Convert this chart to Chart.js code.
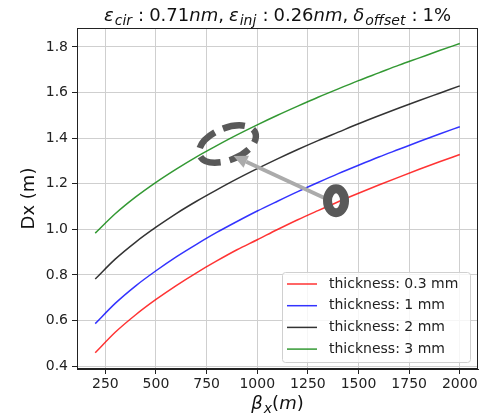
<!DOCTYPE html>
<html>
<head>
<meta charset="utf-8">
<script src="https://cdn.jsdelivr.net/npm/chart.js@4/dist/chart.umd.min.js"></script>
<style>
  html, body { margin:0; padding:0; background:#fff; }
  #wrap { position:relative; width:481px; height:415px; overflow:hidden; }
  #c { position:absolute; left:0; top:0; }
  .math { position:absolute; font-family:"DejaVu Sans", sans-serif; color:#111; white-space:nowrap; text-align:center; line-height:24px; }
  .math i { font-style:oblique; }
  .math sub { font-size:0.78em; line-height:0; vertical-align:-0.3em; margin-left:1px; }
  .math .bc { margin-left:6px; }
  .math .ac { margin-left:5px; }
  .math .cm { margin-left:5px; }
  #title { left:77px; width:401px; top:3px; font-size:18px; }
  #xlabel { left:77px; width:401px; top:391px; font-size:18px; }
</style>
</head>
<body>
<div id="wrap">
  <canvas id="c" width="481" height="415"></canvas>
  <div id="title" class="math"><i>ε</i><sub><i>cir</i></sub><span class="bc">:</span><span class="ac">0.71<i>nm</i>,</span><span class="cm"><i>ε</i></span><sub><i>inj</i></sub><span class="bc">:</span><span class="ac">0.26<i>nm</i>,</span><span class="cm"><i>δ</i></span><sub><i>offset</i></sub><span class="bc">:</span><span class="ac">1%</span></div>
  <div id="xlabel" class="math"><i>β</i><sub><i>x</i></sub>(<i>m</i>)</div>
</div>
<script>
// ---- data ----
const betaX = [200, 300, 400, 500, 600, 700, 800, 900, 1000, 1100, 1200, 1300, 1400, 1500, 1600, 1700, 1800, 1900, 2000];
const dx03mm = [0.458, 0.549, 0.625, 0.692, 0.753, 0.809, 0.861, 0.910, 0.954, 0.999, 1.042, 1.082, 1.121, 1.158, 1.194, 1.229, 1.263, 1.296, 1.328];
const dx1mm  = [0.586, 0.676, 0.752, 0.818, 0.879, 0.934, 0.986, 1.034, 1.080, 1.123, 1.165, 1.205, 1.244, 1.281, 1.317, 1.351, 1.385, 1.418, 1.450];
const dx2mm  = [0.782, 0.870, 0.944, 1.009, 1.069, 1.123, 1.173, 1.221, 1.266, 1.309, 1.350, 1.389, 1.426, 1.463, 1.498, 1.532, 1.565, 1.597, 1.629];
const dx3mm  = [0.983, 1.069, 1.142, 1.206, 1.264, 1.318, 1.367, 1.414, 1.458, 1.500, 1.540, 1.579, 1.616, 1.652, 1.686, 1.720, 1.752, 1.784, 1.815];
const seriesLabels = ["thickness: 0.3 mm", "thickness: 1 mm", "thickness: 2 mm", "thickness: 3 mm"];
const xTicks = [250, 500, 750, 1000, 1250, 1500, 1750, 2000];
const yTicks = [0.4, 0.6, 0.8, 1.0, 1.2, 1.4, 1.6, 1.8];

// annotation anchors in data units
const markEllipse = { x: 853, y: 1.374 };
const markRing = { x: 1389, y: 1.125 };
const arrowFrom = { x: 1340, y: 1.134 };
const arrowTo = { x: 883, y: 1.322 };

const FONT = "DejaVu Sans";
const colors = ["rgba(255,0,0,0.8)", "rgba(0,0,255,0.8)", "rgba(0,0,0,0.8)", "rgba(0,128,0,0.8)"];
const allSeries = [dx03mm, dx1mm, dx2mm, dx3mm];

const datasets = allSeries.map((vals, k) => ({
  label: seriesLabels[k],
  data: betaX.map((x, i) => ({ x: x, y: vals[i] })),
  borderColor: colors[k],
  backgroundColor: colors[k],
  borderWidth: 1.5,
  pointRadius: 0,
  fill: false,
  cubicInterpolationMode: 'monotone'
}));

const framePlugin = {
  id: 'frame',
  afterDraw(chart) {
    const { ctx, chartArea: a } = chart;
    ctx.save();
    ctx.strokeStyle = '#222';
    ctx.lineWidth = 1;
    ctx.strokeRect(Math.round(a.left) + 0.5, Math.round(a.top) + 0.5, Math.round(a.right - a.left) - 1, Math.round(a.bottom - a.top) - 1);
    ctx.restore();
  }
};

const annotPlugin = {
  id: 'annot',
  afterDatasetsDraw(chart) {
    const { ctx } = chart;
    const xs = chart.scales.x, ys = chart.scales.y;
    const P = p => ({ x: xs.getPixelForValue(p.x), y: ys.getPixelForValue(p.y) });
    ctx.save();
    // dashed ellipse
    const e = P(markEllipse);
    ctx.strokeStyle = '#595959';
    ctx.lineWidth = 6.5;
    ctx.setLineDash([22, 9]);
    ctx.lineDashOffset = 12;
    ctx.beginPath();
    ctx.ellipse(e.x, e.y, 30, 16, -22 * Math.PI / 180, 0, Math.PI * 2);
    ctx.stroke();
    ctx.setLineDash([]);
    // arrow
    const a0 = P(arrowFrom), a1 = P(arrowTo);
    const ang = Math.atan2(a1.y - a0.y, a1.x - a0.x);
    const headL = 14, headW = 6.5;
    const bx = a1.x - headL * Math.cos(ang), by = a1.y - headL * Math.sin(ang);
    ctx.strokeStyle = '#ababab';
    ctx.fillStyle = '#ababab';
    ctx.lineWidth = 4;
    ctx.beginPath();
    ctx.moveTo(a0.x, a0.y);
    ctx.lineTo(bx, by);
    ctx.stroke();
    ctx.beginPath();
    ctx.moveTo(a1.x, a1.y);
    ctx.lineTo(bx + headW * Math.sin(ang), by - headW * Math.cos(ang));
    ctx.lineTo(bx - headW * Math.sin(ang), by + headW * Math.cos(ang));
    ctx.closePath();
    ctx.fill();
    // ring
    const r = P(markRing);
    ctx.strokeStyle = '#595959';
    ctx.lineWidth = 9;
    ctx.beginPath();
    ctx.ellipse(r.x, r.y, 8.5, 12, 0, 0, Math.PI * 2);
    ctx.stroke();
    ctx.restore();
  }
};

const legendPlugin = {
  id: 'boxLegend',
  afterDraw(chart) {
    const { ctx, chartArea: a } = chart;
    const w = 188, h = 90;
    const x0 = a.right - 8 - w, y0 = a.bottom - 7 - h;
    ctx.save();
    ctx.beginPath();
    ctx.roundRect(x0 + 0.5, y0 + 0.5, w, h, 3);
    ctx.fillStyle = 'rgba(255,255,255,0.8)';
    ctx.fill();
    ctx.strokeStyle = '#d0d0d0';
    ctx.lineWidth = 1;
    ctx.stroke();
    ctx.font = '14px "' + FONT + '"';
    ctx.textBaseline = 'middle';
    ctx.fillStyle = '#222';
    chart.data.datasets.forEach((ds, i) => {
      const yy = y0 + 12 + i * 21.7;
      ctx.strokeStyle = ds.borderColor;
      ctx.lineWidth = 1.5;
      ctx.beginPath();
      ctx.moveTo(x0 + 5, yy);
      ctx.lineTo(x0 + 35, yy);
      ctx.stroke();
      ctx.fillText(ds.label, x0 + 47, yy);
    });
    ctx.restore();
  }
};

new Chart(document.getElementById('c'), {
  type: 'line',
  data: { datasets },
  options: {
    responsive: false,
    animation: false,
    devicePixelRatio: 1,
    layout: { padding: { top: 28, right: 3, left: 0, bottom: 0 } },
    plugins: { legend: { display: false }, tooltip: { enabled: false }, title: { display: false } },
    scales: {
      x: {
        type: 'linear',
        min: 110, max: 2090,
        afterBuildTicks: s => { s.ticks = xTicks.map(v => ({ value: v })); },
        afterFit: s => { s.height = 46; },
        ticks: { font: { family: FONT, size: 14 }, color: '#222', padding: 2, maxRotation: 0, autoSkip: false, callback: v => String(v) },
        grid: { color: '#cfcfcf', lineWidth: 1, tickLength: 5, tickColor: '#222', drawTicks: true },
        border: { display: true, color: '#222', width: 1 }
      },
      y: {
        type: 'linear',
        min: 0.387, max: 1.883,
        afterBuildTicks: s => { s.ticks = yTicks.map(v => ({ value: v })); },
        afterFit: s => { s.width = 77; },
        ticks: { font: { family: FONT, size: 14 }, color: '#222', padding: 4, autoSkip: false, callback: v => v.toFixed(1) },
        grid: { color: '#cfcfcf', lineWidth: 1, tickLength: 5, tickColor: '#222', drawTicks: true },
        border: { display: true, color: '#222', width: 1 },
        title: { display: true, text: 'Dx (m)', font: { family: FONT, size: 18 }, color: '#111', padding: { top: 19, bottom: 0 } }
      }
    }
  },
  plugins: [annotPlugin, framePlugin, legendPlugin]
});
</script>
</body>
</html>
